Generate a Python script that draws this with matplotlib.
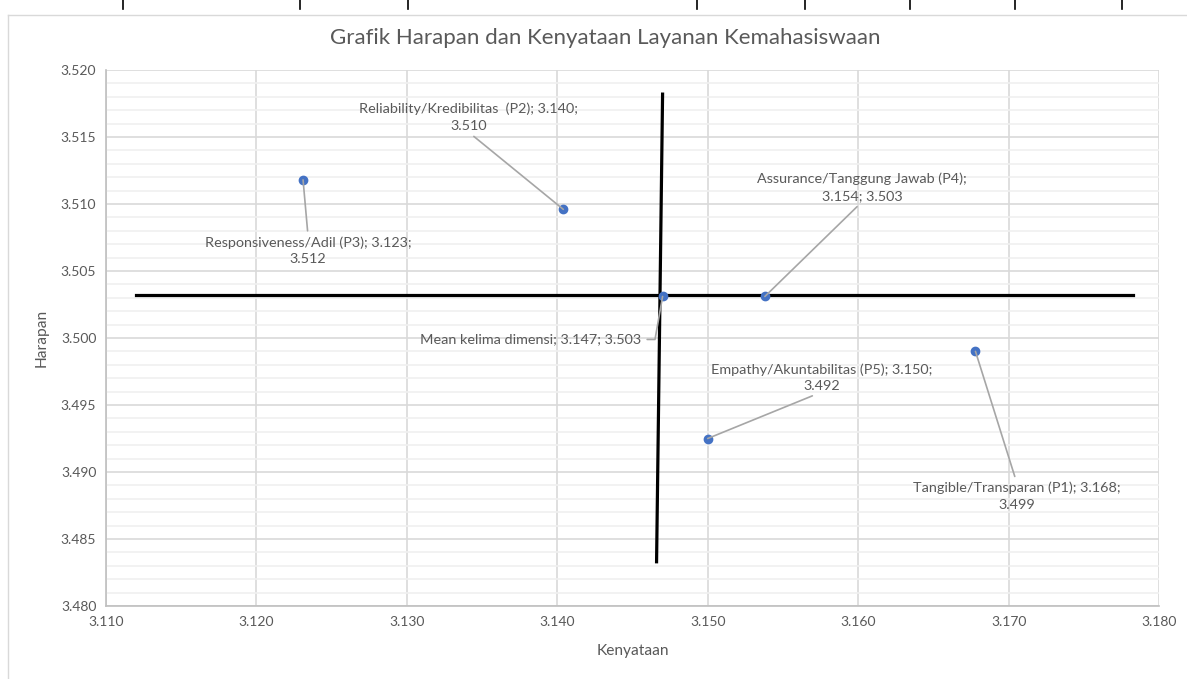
import matplotlib
matplotlib.use("Agg")
import matplotlib.pyplot as plt
from matplotlib.lines import Line2D
from matplotlib.ticker import MultipleLocator

plt.rcParams['font.family'] = ['Lato', 'DejaVu Sans']

# Data (Kenyataan = x, Harapan = y)
nama = ["Responsiveness", "Reliability", "Mean", "Assurance", "Empathy", "Tangible"]
kenyataan = [3.1231, 3.1404, 3.1470, 3.1538, 3.1500, 3.1678]
harapan = [3.5118, 3.5096, 3.5031, 3.5031, 3.4925, 3.4990]
label = [
    "Responsiveness/Adil (P3); 3.123;\n3.512",
    "Reliability/Kredibilitas  (P2); 3.140;\n3.510",
    "Mean kelima dimensi; 3.147; 3.503",
    "Assurance/Tanggung Jawab (P4);\n3.154; 3.503",
    "Empathy/Akuntabilitas (P5); 3.150;\n3.492",
    "Tangible/Transparan (P1); 3.168;\n3.499",
]

# garis pembagi kuadran
garis_h_x = [3.1120, 3.1783]
garis_h_y = [3.5032, 3.5032]
garis_v_x = [3.1470, 3.1466]
garis_v_y = [3.5182, 3.4833]

abu = "#595959"

fig = plt.figure(figsize=(11.87, 6.79), dpi=100)
ax = fig.add_axes([106 / 1187, 1 - 606 / 679, (1159 - 106) / 1187, (606 - 70) / 679])

ax.set_xlim(3.110, 3.180)
ax.set_ylim(3.480, 3.520)
ax.xaxis.set_major_locator(MultipleLocator(0.01))
ax.yaxis.set_major_locator(MultipleLocator(0.005))
ax.yaxis.set_minor_locator(MultipleLocator(0.001))
ax.xaxis.set_major_formatter(matplotlib.ticker.FormatStrFormatter('%.3f'))
ax.yaxis.set_major_formatter(matplotlib.ticker.FormatStrFormatter('%.3f'))
ax.grid(which='major', color='#d9d9d9', linewidth=1.2)
ax.grid(which='minor', axis='y', color='#f0f0f0', linewidth=1.2)
ax.set_axisbelow(True)
ax.tick_params(which='both', length=0, colors=abu, labelsize=10, pad=7)
for s in ['top', 'right']:
    ax.spines[s].set_visible(False)
for s in ['left', 'bottom']:
    ax.spines[s].set_color('#bfbfbf')
    ax.spines[s].set_linewidth(1.2)

ax.plot(garis_h_x, garis_h_y, color='black', linewidth=2.3, zorder=3)
ax.plot(garis_v_x, garis_v_y, color='black', linewidth=2.3, zorder=3)
ax.scatter(kenyataan, harapan, s=36, color='#4472C4', zorder=4)

# posisi label (offset piksel), perataan, titik sambung garis
offset = [(5, -71), (-95, 92), (-21, -43), (97, 109), (114, 61), (41, -145)]
rata = ['center', 'center', 'right', 'center', 'center', 'center']
relpos = [(0.5, 1), (0.5, 0), (1, 0.5), (0.5, 0), (0.5, 0), (0.5, 1)]
for i in range(len(nama)):
    cs = "angle,angleA=0,angleB=80,rad=0" if nama[i] == "Mean" else "arc3"
    ax.annotate(label[i], (kenyataan[i], harapan[i]), xytext=offset[i],
                textcoords='offset pixels', ha=rata[i], va='center',
                multialignment='center', fontsize=10.4, color=abu,
                linespacing=1.45,
                arrowprops=dict(arrowstyle='-', color='#a6a6a6', lw=1.2,
                                relpos=relpos[i], shrinkA=2, shrinkB=0,
                                connectionstyle=cs),
                zorder=5)

ax.set_xlabel("Kenyataan", fontsize=11.2, color=abu, labelpad=12)
ax.set_ylabel("Harapan", fontsize=11.2, color=abu, labelpad=9)
fig.text(605 / 1187, 1 - 38 / 679, "Grafik Harapan dan Kenyataan Layanan Kemahasiswaan",
         ha='center', va='center', fontsize=16, color=abu)

# bingkai area grafik dan garis sel di atas
fig.add_artist(Line2D([8 / 1187, 1], [1 - 15 / 679] * 2, color='#d9d9d9', lw=1))
fig.add_artist(Line2D([8 / 1187] * 2, [0, 1 - 15 / 679], color='#d9d9d9', lw=1))
for px in [123, 300, 408, 697, 805, 910, 1015, 1122]:
    fig.add_artist(Line2D([px / 1187] * 2, [1, 1 - 9 / 679], color='black', lw=1.2))

fig.savefig("out.png", dpi=100)
